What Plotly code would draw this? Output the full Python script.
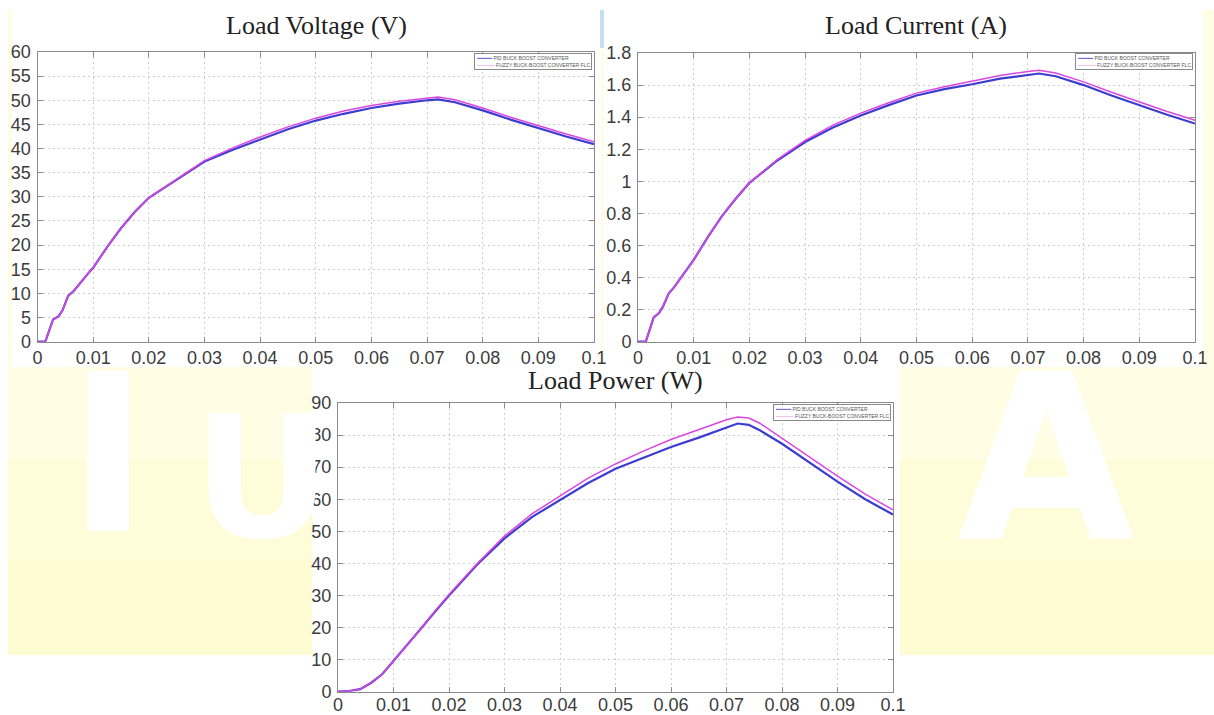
import plotly.graph_objects as go

W, H = 1214, 715

# ---------------- data ----------------
t_v = [0, 0.0014, 0.0028, 0.0038, 0.0045, 0.0055, 0.0065, 0.0075, 0.009, 0.01, 0.0125, 0.015,
       0.0175, 0.02, 0.025, 0.03, 0.035, 0.04, 0.045, 0.05, 0.055, 0.06, 0.065, 0.07, 0.072,
       0.075, 0.08, 0.085, 0.09, 0.095, 0.1]
v_pid = [0, 0, 4.6, 5.3, 6.5, 9.5, 10.5, 12.0, 14.0, 15.3, 19.6, 23.5, 26.9, 29.8, 33.6, 37.3,
         39.7, 41.9, 44.0, 45.8, 47.2, 48.4, 49.3, 50.0, 50.2, 49.6, 47.9, 46.0, 44.2, 42.5, 40.9]
v_fuzzy = [0, 0, 4.6, 5.3, 6.5, 9.5, 10.5, 12.0, 14.0, 15.3, 19.6, 23.5, 26.9, 29.8, 33.7, 37.5,
           40.1, 42.4, 44.5, 46.3, 47.8, 48.9, 49.8, 50.5, 50.7, 50.1, 48.4, 46.5, 44.7, 43.0, 41.4]

t_i = [0, 0.0014, 0.0028, 0.0038, 0.0045, 0.0055, 0.0065, 0.0075, 0.009, 0.01, 0.0125, 0.015,
       0.0175, 0.02, 0.025, 0.03, 0.035, 0.04, 0.045, 0.05, 0.055, 0.06, 0.065, 0.07, 0.072,
       0.075, 0.08, 0.085, 0.09, 0.095, 0.1]
i_pid = [0, 0, 0.15, 0.18, 0.22, 0.30, 0.34, 0.39, 0.46, 0.51, 0.65, 0.78, 0.89, 0.99, 1.13, 1.245,
         1.335, 1.41, 1.475, 1.535, 1.575, 1.605, 1.64, 1.665, 1.672, 1.655, 1.60, 1.535, 1.475,
         1.415, 1.36]
i_fuzzy = [0, 0, 0.15, 0.18, 0.22, 0.30, 0.34, 0.39, 0.46, 0.51, 0.65, 0.78, 0.89, 0.99, 1.135,
           1.255, 1.35, 1.425, 1.49, 1.55, 1.59, 1.625, 1.66, 1.685, 1.692, 1.675, 1.62, 1.555,
           1.495, 1.435, 1.38]

t_p = [0, 0.002, 0.004, 0.006, 0.008, 0.01, 0.0125, 0.015, 0.0175, 0.02, 0.025, 0.03, 0.035,
       0.04, 0.045, 0.05, 0.055, 0.06, 0.065, 0.07, 0.072, 0.074, 0.076, 0.08, 0.085, 0.09,
       0.095, 0.1]
p_pid = [0, 0.2, 0.8, 2.8, 5.5, 9.5, 14.5, 19.8, 25.0, 30.0, 39.5, 47.8, 54.5, 59.8, 65.0, 69.5,
         73.0, 76.3, 79.2, 82.5, 83.6, 83.2, 81.5, 77.3, 71.3, 65.5, 60.0, 55.2]
p_fuzzy = [0, 0.2, 0.8, 2.8, 5.5, 9.5, 14.5, 19.8, 25.2, 30.3, 39.8, 48.5, 55.5, 61.0, 66.5,
           71.0, 75.0, 78.6, 81.8, 84.8, 85.6, 85.3, 83.7, 79.0, 73.0, 67.2, 61.6, 56.7]

x_ticks = [0, 0.01, 0.02, 0.03, 0.04, 0.05, 0.06, 0.07, 0.08, 0.09, 0.1]
x_labels = ["0", "0.01", "0.02", "0.03", "0.04", "0.05", "0.06", "0.07", "0.08", "0.09", "0.1"]
v_ticks = [0, 5, 10, 15, 20, 25, 30, 35, 40, 45, 50, 55, 60]
i_ticks = [0, 0.2, 0.4, 0.6, 0.8, 1.0, 1.2, 1.4, 1.6, 1.8]
i_labels = ["0", "0.2", "0.4", "0.6", "0.8", "1", "1.2", "1.4", "1.6", "1.8"]
p_ticks = [0, 10, 20, 30, 40, 50, 60, 70, 80, 90]

titles = ["Load Voltage (V)", "Load Current (A)", "Load Power (W)"]
names = ["PID BUCK BOOST CONVERTER", "FUZZY BUCK-BOOST CONVERTER FLC"]

# ---------------- helpers (layout only) ----------------
def px(x):
    return x / W

def py(y):
    return 1 - y / H

BLUE = "#3c3cd2"
MAG = "#dc46e0"

fig = go.Figure()
series = [
    (t_v, v_pid, v_fuzzy, "x", "y"),
    (t_i, i_pid, i_fuzzy, "x2", "y2"),
    (t_p, p_pid, p_fuzzy, "x3", "y3"),
]
for t, a, b, xa, ya in series:
    fig.add_trace(go.Scatter(x=t, y=a, mode="lines", name=names[0], xaxis=xa, yaxis=ya,
                             showlegend=False, line=dict(color=BLUE, width=2.2)))
    fig.add_trace(go.Scatter(x=t, y=b, mode="lines", name=names[1], xaxis=xa, yaxis=ya,
                             showlegend=False, line=dict(color=MAG, width=1.5)))

tickfont = dict(family="Liberation Sans, Arial, sans-serif", size=18, color="#3c3c3c")
axis_common = dict(showline=True, linecolor="#8a8a8a", linewidth=1, mirror="allticks",
                   ticks="inside", ticklen=5, tickcolor="#8a8a8a", showgrid=True,
                   gridcolor="#cfcfcf", griddash="2px,3px", gridwidth=1, zeroline=False,
                   tickfont=tickfont, fixedrange=True)

# pixel boxes for the three plot areas: (left, right, top, bottom)
boxes = [(37.5, 594, 52, 341.7), (638, 1195, 53, 341.7), (338, 893, 403, 691.7)]
yt = [(v_ticks, [str(v) for v in v_ticks], [0, 60]),
      (i_ticks, i_labels, [0, 1.8]),
      (p_ticks, [str(v) for v in p_ticks], [0, 90])]
x_standoff = [0, 0, -3]

layout = dict(width=W, height=H, margin=dict(l=0, r=0, t=0, b=0, autoexpand=False),
              paper_bgcolor="white", plot_bgcolor="white", showlegend=False)
for k, (box, (tv, tl, rng)) in enumerate(zip(boxes, yt)):
    sfx = "" if k == 0 else str(k + 1)
    l, r, tp, bt = box
    layout["xaxis" + sfx] = dict(axis_common, domain=[px(l), px(r)], range=[0, 0.1],
                                 tickvals=x_ticks, ticktext=x_labels,
                                 anchor="y" + sfx, ticklabelstandoff=x_standoff[k])
    layout["yaxis" + sfx] = dict(axis_common, domain=[py(bt), py(tp)], range=rng,
                                 tickvals=tv, ticktext=tl, anchor="x" + sfx,
                                 ticklabelstandoff=2)
fig.update_layout(**layout)

# legends (small boxed keys at top-right of each panel)
legend_text = ('<span style="color:%s">━━━━━</span> %s<br>'
               '<span style="color:%s">─────</span> %s' % (BLUE, names[0], MAG, names[1]))
leg_pos = [(592, 53), (1193, 53), (891, 404)]
for lx, ly in leg_pos:
    fig.add_annotation(text=legend_text, x=px(lx), y=py(ly), xref="paper", yref="paper",
                       showarrow=False, xanchor="right", yanchor="top", align="left",
                       bgcolor="white", bordercolor="#8a8a8a", borderwidth=1, borderpad=1,
                       font=dict(family="Liberation Sans, Arial", size=5, color="#555"))

# titles
title_pos = [(316, 25), (916, 25), (615, 380)]
for txt, (tx, ty) in zip(titles, title_pos):
    fig.add_annotation(text=txt, x=px(tx), y=py(ty), xref="paper", yref="paper",
                       showarrow=False, xanchor="center", yanchor="middle",
                       font=dict(family="Liberation Serif, Times New Roman, serif", size=26,
                                 color="#222"))

# background (slide) decoration
shapes = []
for (y0, y1, col) in [(10, 460, "#fffde3"), (460, 560, "#fffcda"), (560, 655, "#fffbd2")]:
    shapes.append(dict(type="rect", xref="paper", yref="paper", x0=px(8), x1=1, y0=py(y1),
                       y1=py(y0), fillcolor=col, line_width=0, layer="below"))
# white screenshot panels
for (x0, x1, y0, y1) in [(12, 601, 8, 367), (604, 1203, 8, 367), (312, 900, 362, 715)]:
    shapes.append(dict(type="rect", xref="paper", yref="paper", x0=px(x0), x1=px(x1),
                       y0=py(y1), y1=py(y0), fillcolor="white", line_width=0, layer="below"))
shapes.append(dict(type="rect", xref="paper", yref="paper", x0=px(600), x1=px(604),
                   y0=py(48), y1=py(10), fillcolor="#c4def2", line_width=0, layer="below"))
fig.update_layout(shapes=shapes)

# big white watermark letters on the slide background
for ch, cx, base, size in [("I", 108, 585, 220), ("U", 262, 579, 170), ("A", 1046, 595, 230)]:
    fig.add_annotation(text=ch, x=px(cx), y=py(base), xref="paper", yref="paper",
                       showarrow=False, xanchor="center", yanchor="bottom",
                       font=dict(family="DejaVu Sans", size=size, color="white",
                                 weight="bold"))

fig.write_html("out.html")
